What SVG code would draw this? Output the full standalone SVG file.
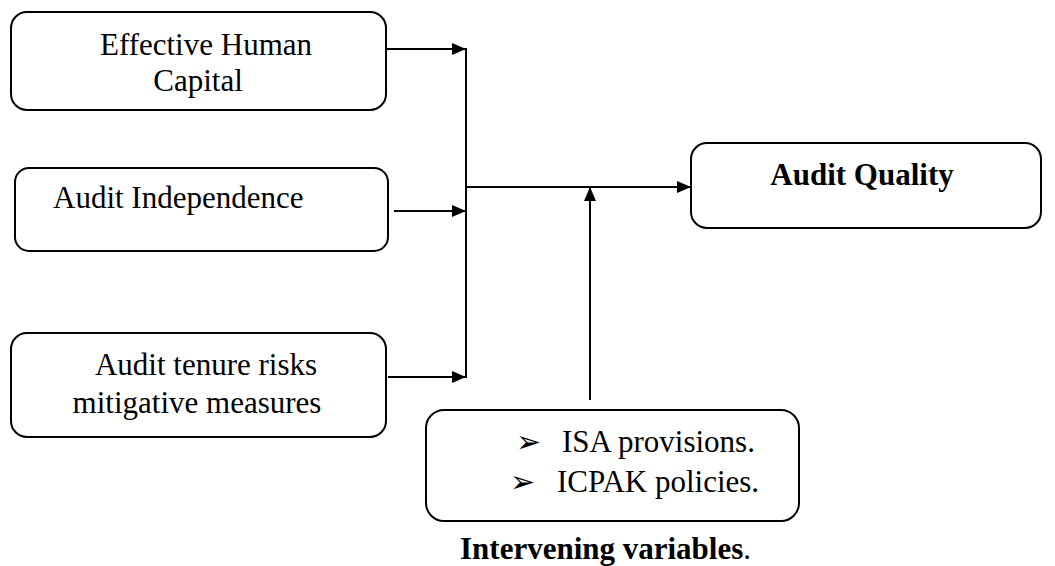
<svg xmlns="http://www.w3.org/2000/svg" width="1055" height="566" viewBox="0 0 1055 566">
<defs>
<style>
.box{fill:#fff;stroke:#000;stroke-width:2}
.t{font-family:"Liberation Serif","Times New Roman",serif;font-size:31px;fill:#000}
.b{font-weight:bold}
.ln{stroke:#000;stroke-width:2;fill:none}
.bul{font-family:"DejaVu Sans",sans-serif;font-size:30px;fill:#000}
</style>
<marker id="ah" markerWidth="14" markerHeight="12" refX="14" refY="6" orient="auto" markerUnits="userSpaceOnUse">
<path d="M0,0 L14,6 L0,12 Z" fill="#000"/>
</marker>
</defs>
<rect width="1055" height="566" fill="#fff"/>
<g id="connectors">
<line class="ln" x1="386" y1="49" x2="466" y2="49" marker-end="url(#ah)"/>
<line class="ln" x1="394" y1="211" x2="466" y2="211" marker-end="url(#ah)"/>
<line class="ln" x1="388" y1="377" x2="466" y2="377" marker-end="url(#ah)"/>
<line class="ln" x1="466" y1="48" x2="466" y2="378"/>
<line class="ln" x1="466" y1="187" x2="691" y2="187" marker-end="url(#ah)"/>
<line class="ln" x1="590" y1="400" x2="590" y2="187" marker-end="url(#ah)"/>
</g>
<g id="human-capital">
<rect class="box" x="11" y="12" width="375" height="98" rx="16"/>
<text class="t" x="206" y="55" text-anchor="middle">Effective Human</text>
<text class="t" x="198" y="91" text-anchor="middle">Capital</text>
</g>
<g id="independence">
<rect class="box" x="15" y="168" width="373" height="83" rx="14"/>
<text class="t" x="53" y="208">Audit Independence</text>
</g>
<g id="tenure">
<rect class="box" x="11" y="333" width="375" height="104" rx="16"/>
<text class="t" x="206" y="375" text-anchor="middle">Audit tenure risks</text>
<text class="t" x="197" y="413" text-anchor="middle">mitigative measures</text>
</g>
<g id="audit-quality">
<rect class="box" x="691" y="143" width="350" height="85" rx="16"/>
<text class="t b" x="862" y="185" text-anchor="middle">Audit Quality</text>
</g>
<g id="intervening">
<rect class="box" x="426" y="410" width="373" height="111" rx="18"/>
<text class="bul" x="516" y="452">➢</text>
<text class="t" x="562" y="452">ISA provisions.</text>
<text class="bul" x="510" y="492">➢</text>
<text class="t" x="557" y="492">ICPAK policies.</text>
</g>
<text class="t" x="460" y="559"><tspan class="b">Intervening variables</tspan>.</text>
</svg>
